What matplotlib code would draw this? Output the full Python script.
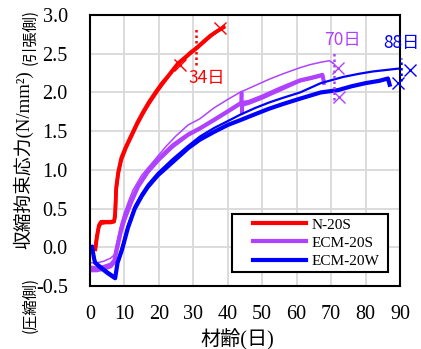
import numpy as np
import matplotlib
matplotlib.use("Agg")
import matplotlib.pyplot as plt
from matplotlib.legend_handler import HandlerLine2D

plt.rcParams['font.family'] = ['Liberation Serif', 'Noto Sans CJK JP']

# N-20S (several specimens overlap into one band)
n20s_age = [1.5, 2.0, 2.6, 3.2, 4.5, 6.0, 7.0, 7.3, 7.6, 8.2, 9.1, 10.5, 12.0, 13.7, 15.4,
            17.0, 18.8, 20.7, 22.6, 24.0, 25.6, 27.5, 29.0, 31.0, 33.0, 34.8, 36.5, 38.0, 39.2]
n20s_a = [-0.05, 0.12, 0.27, 0.31, 0.32, 0.32, 0.33, 0.40, 0.74, 0.95, 1.13, 1.29, 1.43, 1.59, 1.73,
          1.85, 1.97, 2.09, 2.20, 2.28, 2.37, 2.44, 2.50, 2.57, 2.65, 2.72, 2.78, 2.82, 2.86]
n20s_b = [-0.02, 0.15, 0.29, 0.33, 0.33, 0.33, 0.34, 0.45, 0.78, 0.98, 1.16, 1.31, 1.45, 1.61, 1.75,
          1.87, 1.99, 2.11, 2.21, 2.29, 2.38, 2.45, 2.51, 2.58, 2.66, 2.73, 2.78, 2.82, 2.85]

# ECM-20S upper specimen (thin)
ecm20s_age_a = [0.5, 2.0, 4.0, 6.0, 7.0, 8.0, 9.0, 10.0, 11.5, 12.5, 15.0, 18.8, 22.0, 25.0, 28.5,
                31.9, 36.0, 40.0, 43.5, 48.0, 52.0, 56.0, 61.0, 64.0, 67.0, 69.5, 70.5]
ecm20s_a = [-0.20, -0.20, -0.18, -0.14, -0.10, 0.10, 0.30, 0.45, 0.63, 0.74, 0.93, 1.13, 1.30, 1.44, 1.58,
            1.66, 1.80, 1.91, 2.00, 2.09, 2.17, 2.24, 2.32, 2.36, 2.39, 2.41, 2.38]
# ECM-20S lower specimens (thick band)
ecm20s_age_b = [0.5, 2.0, 4.0, 6.0, 7.0, 8.0, 9.0, 10.0, 12.0, 14.0, 16.8, 20.0, 24.0, 28.5, 31.9,
                36.0, 40.0, 43.9, 44.0, 44.1, 44.3, 46.0, 50.0, 55.0, 61.0, 64.0, 67.5, 67.9]
ecm20s_b = [-0.30, -0.30, -0.28, -0.25, -0.20, 0.00, 0.20, 0.35, 0.58, 0.78, 0.97, 1.13, 1.30, 1.45, 1.53,
            1.64, 1.75, 1.86, 2.00, 1.73, 1.84, 1.86, 1.93, 2.03, 2.15, 2.18, 2.22, 2.12]
ecm20s_c = [-0.26, -0.27, -0.25, -0.22, -0.17, 0.04, 0.24, 0.39, 0.61, 0.80, 0.99, 1.15, 1.32, 1.46, 1.54,
            1.65, 1.76, 1.87, 1.87, 1.87, 1.87, 1.88, 1.95, 2.05, 2.16, 2.19, 2.23, 2.15]

# ECM-20W (thick band and one upper specimen)
ecm20w_age = [0.6, 1.2, 1.5, 3.0, 5.0, 7.3, 8.0, 9.3, 11.0, 13.0, 15.0, 16.8, 19.7, 24.0, 28.5,
              31.9, 36.0, 40.0, 43.5, 48.0, 52.0, 56.0, 61.0, 64.0, 67.0, 72.0, 76.0, 80.0, 84.0, 86.5, 87.0]
ecm20w_a = [0.00, -0.15, -0.20, -0.26, -0.33, -0.40, -0.20, -0.03, 0.25, 0.50, 0.66, 0.78, 0.93, 1.10, 1.28,
            1.39, 1.49, 1.58, 1.64, 1.72, 1.79, 1.85, 1.92, 1.96, 2.00, 2.03, 2.08, 2.12, 2.15, 2.18, 2.10]
ecm20w_age_b = [0.6, 1.3, 3.0, 5.0, 7.3, 8.0, 9.3, 11.0, 13.0, 15.0, 16.8, 19.7, 24.0, 28.5, 31.9,
                36.0, 40.0, 43.5, 48.0, 52.0, 56.0, 61.0, 64.0, 67.0, 73.5, 78.0, 82.0, 86.0, 90.0]
ecm20w_b = [0.02, -0.18, -0.24, -0.31, -0.38, -0.18, 0.00, 0.28, 0.53, 0.69, 0.81, 0.96, 1.14, 1.31, 1.43,
            1.54, 1.63, 1.71, 1.80, 1.87, 1.93, 2.00, 2.06, 2.12, 2.20, 2.24, 2.27, 2.29, 2.31]

# failure points (x) and marked ages
n20s_fail_x, n20s_fail_y = [26.1, 37.7], [2.35, 2.83]
ecm20s_fail_x, ecm20s_fail_y = [72.0, 72.3], [2.31, 1.94]
ecm20w_fail_x, ecm20w_fail_y = [92.9, 89.4], [2.29, 2.12]
mark_x = [30.8, 70.8, 90.2]
mark_lo = [2.35, 1.90, 2.15]
mark_hi = [2.84, 2.52, 2.44]
mark_days = [34, 70, 88]
mark_text_pos = [(28.5, 2.19, 'left'), (73.2, 2.68, 'center'), (90.3, 2.64, 'center')]

red = '#ff0000'
purple = '#b042ff'
blue = '#0000ff'
colors = [red, purple, blue]
serif = ['Liberation Serif']

fig = plt.figure(figsize=(4.21, 3.49), dpi=100)
ax = fig.add_axes([0.2138, 0.1805, 0.7363, 0.7765])

ax.plot(n20s_age, n20s_a, color=red, lw=2.6, solid_capstyle='butt')
ax.plot(n20s_age, n20s_b, color=red, lw=2.6, solid_capstyle='butt')

ax.plot(ecm20s_age_a, ecm20s_a, color=purple, lw=1.1)
ax.plot(ecm20s_age_b, ecm20s_b, color=purple, lw=2.6)
ax.plot(ecm20s_age_b, ecm20s_c, color=purple, lw=2.6)

ax.plot(ecm20w_age, ecm20w_a, color=blue, lw=3.0)
ax.plot(ecm20w_age_b, ecm20w_b, color=blue, lw=1.6)

for fx, fy, c in [(n20s_fail_x, n20s_fail_y, red), (ecm20s_fail_x, ecm20s_fail_y, purple),
                  (ecm20w_fail_x, ecm20w_fail_y, blue)]:
    ax.plot(fx, fy, ls='none', marker='x', ms=8, mew=1.0, color=c, clip_on=False, zorder=5)

for x, lo, hi, d, (tx, ty, ha), c in zip(mark_x, mark_lo, mark_hi, mark_days, mark_text_pos, colors):
    ax.plot([x, x], [lo, hi], color=c, lw=1.8, ls=(0, (1, 1.2)), clip_on=False, zorder=5)
    ax.text(tx, ty, f'{d}日', color=c, fontsize=12.5, ha=ha, va='center',
            family=['Noto Sans CJK JP'], clip_on=False)

ax.set_xlim(0, 90)
ax.set_ylim(-0.5, 3.0)
ax.set_xticks(np.arange(0, 91, 10))
ax.set_xticklabels([str(v) for v in range(0, 91, 10)], family=serif)
ax.set_yticks(np.arange(-0.5, 3.01, 0.5))
ax.set_yticklabels(['-0.5', '0.0', '0.5', '1.0', '1.5', '2.0', '2.5', '3.0'], family=serif)
ax.tick_params(length=0, labelsize=14.5)
ax.tick_params(axis='y', pad=16)
ax.tick_params(axis='x', pad=14)
ax.grid(True, color='#d9d9d9', lw=1.3)
ax.set_axisbelow(True)
for s in ax.spines.values():
    s.set_linewidth(1.5)
    s.set_color('black')

ax.set_xlabel('材齢(日)', fontsize=14.5)
ax.xaxis.set_label_coords(0.474, -0.197, transform=ax.transAxes)
ax.xaxis.label.set_va('center')
fig.text(23 / 421, 1 - 160 / 349, '収縮拘束応力(N/mm²)', rotation=90, fontsize=13.5,
         ha='center', va='center')
fig.text(30 / 421, 1 - 37 / 349, '(引張側)', rotation=90, fontsize=11,
         ha='center', va='center', family=['Noto Sans CJK JP'])
fig.text(30 / 421, 1 - 305 / 349, '(圧縮側)', rotation=90, fontsize=11,
         ha='center', va='center', family=['Noto Sans CJK JP'])

handles = [plt.Line2D([0], [0], color=c, lw=3) for c in colors]
leg = ax.legend(handles, ['N-20S', 'ECM-20S', 'ECM-20W'], loc='lower left',
                bbox_to_anchor=(0.458, 0.052, 0.503, 0.232), mode='expand', borderaxespad=0,
                fontsize=11, handlelength=4.6, handletextpad=0.35, labelspacing=0.3,
                borderpad=0.25, fancybox=False, framealpha=1, edgecolor='black',
                handler_map={plt.Line2D: HandlerLine2D(xpad=1.15)})
leg.get_frame().set_linewidth(1.5)

fig.savefig('out.png', dpi=100)
